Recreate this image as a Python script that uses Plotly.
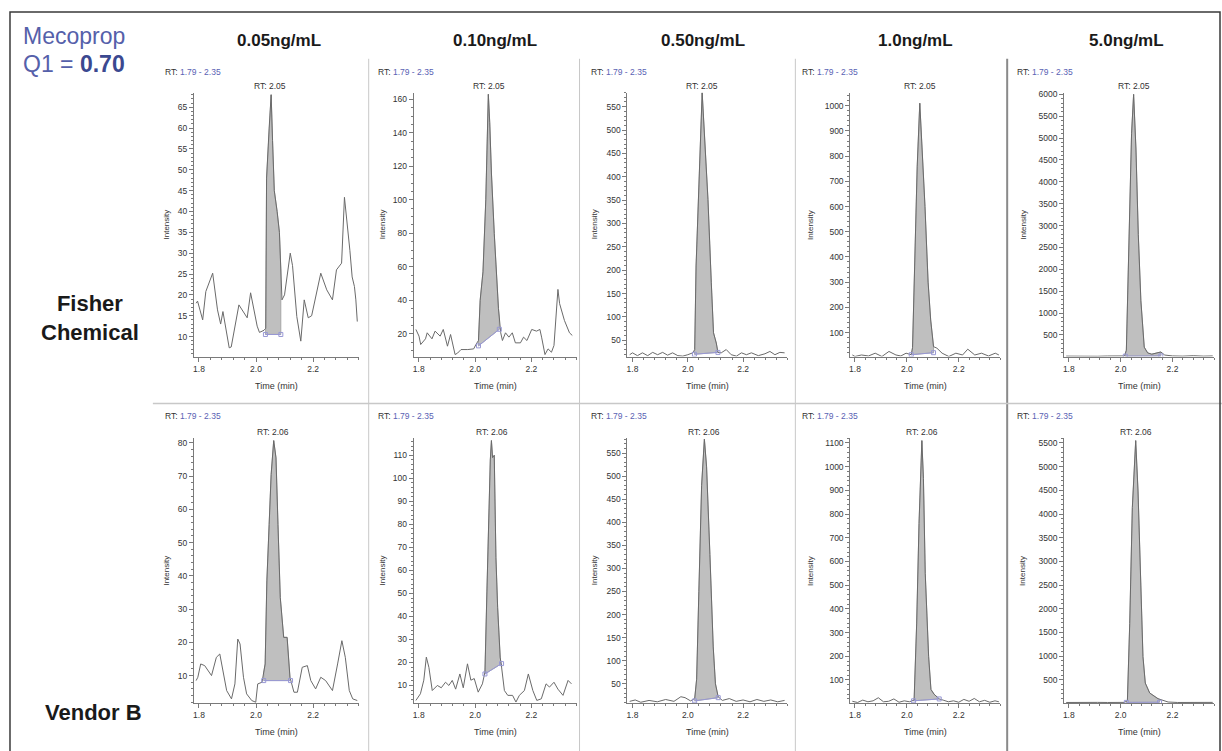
import numpy as np
import plotly.graph_objects as go

W, H = 1222, 751

# ---------------- data ----------------
ANALYTE = "Mecoprop"
Q1_VALUE = "0.70"
CONCENTRATIONS = ["0.05ng/mL", "0.10ng/mL", "0.50ng/mL", "1.0ng/mL", "5.0ng/mL"]
SOURCES = ["Fisher<br>Chemical", "Vendor B"]
RT_WINDOW = "1.79 - 2.35"
RT_APEX = [[2.05, 2.05, 2.05, 2.05, 2.05],
           [2.06, 2.06, 2.06, 2.06, 2.06]]
X_TICKS = [1.8, 2.0, 2.2]
X_TICK_TEXT = ["1.8", "2.0", "2.2"]

# Fisher Chemical
FC_005_T = [1.79, 1.795, 1.813, 1.824, 1.848, 1.865, 1.876, 1.884, 1.906, 1.913, 1.94, 1.969, 1.981, 2.004, 2.012,
            2.028, 2.034, 2.037, 2.046, 2.053, 2.058, 2.064, 2.074, 2.082, 2.091, 2.100, 2.120, 2.128, 2.143, 2.157,
            2.169, 2.183, 2.195, 2.213, 2.227, 2.248, 2.268, 2.282, 2.294, 2.300, 2.310, 2.320, 2.329, 2.337, 2.345,
            2.350, 2.355]
FC_005_I = [18, 18.5, 14, 20.8, 25.2, 16.4, 13, 16, 7.3, 7.5, 17.6, 14.5, 20.5, 12.5, 11,
            11.5, 12, 48, 60, 68, 57, 45, 40, 35, 18.8, 20, 30, 27, 14.8, 8.9,
            18.8, 14.5, 15, 20.5, 25.2, 21.2, 18.8, 26, 27, 27.6, 43.4, 37, 30.7, 24.3, 22,
            18.8, 13.6]

FC_010_T = [1.79, 1.801, 1.807, 1.824, 1.830, 1.847, 1.858, 1.876, 1.887, 1.902, 1.913, 1.929, 1.938, 1.95, 1.974,
            1.995, 2.003, 2.012, 2.018, 2.028, 2.038, 2.047, 2.052, 2.058, 2.068, 2.075, 2.083, 2.091, 2.097, 2.108,
            2.12, 2.132, 2.143, 2.161, 2.172, 2.184, 2.201, 2.218, 2.23, 2.236, 2.248, 2.259, 2.271, 2.28, 2.294,
            2.3, 2.317, 2.335, 2.345]
FC_010_I = [22.6, 18.6, 13.6, 17, 20.6, 17, 21.6, 18.6, 22.6, 12.6, 19.6, 7.6, 8.5, 10.6, 10.6,
            11, 13.6, 16, 40, 57, 100, 163, 146, 116, 80, 56, 35, 20.6, 16, 20.6,
            18, 20.6, 14.6, 14.6, 18, 16, 22.6, 21.6, 22.6, 18, 7.6, 11, 9, 13, 46.5,
            38, 28, 20.6, 19]

FC_050_T = [1.79, 1.80, 1.818, 1.836, 1.855, 1.873, 1.891, 1.909, 1.927, 1.945, 1.964, 1.982, 2.000, 2.018, 2.025,
            2.030, 2.052, 2.060, 2.073, 2.085, 2.093, 2.103, 2.109, 2.121, 2.139, 2.157, 2.176, 2.194, 2.212, 2.230,
            2.255, 2.279, 2.297, 2.315, 2.333, 2.350]
FC_050_I = [19, 23, 17, 23, 17, 24, 19, 24, 18, 23, 17, 16, 19, 23, 30,
            209, 580, 494, 351, 173, 66, 44, 24, 23, 30, 19, 16, 23, 19, 23,
            17, 21, 26, 19, 24, 23]

FC_100_T = [1.79, 1.80, 1.825, 1.852, 1.878, 1.904, 1.931, 1.958, 1.977, 1.997, 2.017, 2.022, 2.030, 2.040, 2.050,
            2.058, 2.070, 2.082, 2.092, 2.103, 2.116, 2.136, 2.162, 2.189, 2.215, 2.235, 2.262, 2.288, 2.315, 2.341,
            2.355]
FC_100_I = [11, 5, 11, 7, 18, 5, 25, 11, 7, 18, 12, 40, 360, 760, 1010,
            850, 600, 300, 150, 44, 38, 18, 5, 18, 11, 34, 11, 18, 7, 18,
            11]

FC_500_T = [1.79, 1.83, 1.87, 1.91, 1.95, 1.99, 2.015, 2.022, 2.033, 2.042, 2.05, 2.059, 2.068, 2.078, 2.091,
            2.104, 2.12, 2.14, 2.155, 2.17, 2.20, 2.24, 2.28, 2.32, 2.355]
FC_500_I = [15, 10, 20, 12, 18, 10, 20, 150, 2800, 5100, 6000, 4750, 2800, 1280, 220,
            90, 60, 80, 110, 40, 20, 15, 25, 15, 20]

# Vendor B
VB_005_T = [1.79, 1.796, 1.806, 1.82, 1.844, 1.861, 1.873, 1.885, 1.897, 1.914, 1.926, 1.936, 1.944, 1.956, 1.967,
            1.985, 1.999, 2.006, 2.021, 2.032, 2.038, 2.046, 2.053, 2.062, 2.07, 2.077, 2.085, 2.097, 2.109, 2.119,
            2.133, 2.145, 2.162, 2.18, 2.192, 2.209, 2.227, 2.244, 2.268, 2.286, 2.301, 2.313, 2.327, 2.339, 2.355]
VB_005_I = [8.5, 9.5, 13.5, 13, 10, 15.5, 16.5, 10.5, 5.5, 3, 7.5, 21, 19.5, 9.5, 4.5,
            2.5, 2, 7.5, 8, 13.5, 38.5, 55.5, 70.5, 80.7, 75.5, 55.5, 33.5, 21.5, 21.5, 9.5,
            5, 5, 12.5, 13, 8.5, 6, 9.5, 8.5, 5.5, 13.5, 20.5, 15.5, 5.5, 3, 2.5]

VB_010_T = [1.79, 1.806, 1.818, 1.827, 1.836, 1.848, 1.866, 1.88, 1.895, 1.907, 1.919, 1.931, 1.946, 1.958, 1.973,
            1.985, 1.997, 2.011, 2.026, 2.035, 2.042, 2.048, 2.054, 2.058, 2.062, 2.068, 2.074, 2.08, 2.089, 2.094,
            2.104, 2.116, 2.133, 2.145, 2.157, 2.175, 2.189, 2.205, 2.219, 2.235, 2.252, 2.264, 2.28, 2.294, 2.312,
            2.33, 2.342]
VB_010_I = [3.5, 6.4, 12.3, 22.3, 17.9, 7.8, 10, 9, 11.4, 10, 12.2, 8.4, 15, 9, 19.4,
            12.3, 13, 7.1, 10.7, 15.8, 51, 83, 108, 116.4, 109, 110, 65.5, 44, 22.3, 18,
            7.8, 5.7, 5.7, 2.8, 5.7, 7.8, 15, 7.8, 3.5, 4.2, 10.7, 9.3, 11.4, 8.4, 5.7,
            12.2, 10.7]

VB_050_T = [1.79, 1.81, 1.83, 1.86, 1.89, 1.92, 1.95, 1.975, 1.99, 2.01, 2.025, 2.032, 2.040, 2.050, 2.060,
            2.068, 2.080, 2.092, 2.100, 2.110, 2.125, 2.15, 2.175, 2.20, 2.225, 2.25, 2.275, 2.30, 2.325, 2.35]
VB_050_I = [12, 15, 10, 14, 11, 16, 12, 22, 20, 13, 18, 60, 250, 480, 580,
            520, 330, 130, 50, 22, 14, 18, 12, 15, 11, 16, 12, 15, 11, 14]

VB_100_T = [1.79, 1.81, 1.83, 1.85, 1.87, 1.89, 1.91, 1.93, 1.95, 1.97, 1.99, 2.01, 2.028, 2.038, 2.047,
            2.058, 2.064, 2.071, 2.084, 2.093, 2.105, 2.125, 2.14, 2.16, 2.18, 2.20, 2.22, 2.24, 2.26, 2.28,
            2.30, 2.32, 2.34, 2.355]
VB_100_I = [10, 5, 15, 8, 12, 25, 8, 10, 20, 6, 12, 8, 15, 340, 760,
            1110, 950, 550, 200, 60, 40, 20, 15, 8, 12, 6, 18, 10, 22, 8,
            14, 6, 12, 8]

VB_500_T = [1.79, 1.83, 1.87, 1.91, 1.95, 1.99, 2.015, 2.026, 2.035, 2.045, 2.058, 2.067, 2.077, 2.086, 2.095,
            2.112, 2.144, 2.183, 2.22, 2.26, 2.30, 2.355]
VB_500_I = [20, 25, 18, 22, 20, 25, 22, 60, 1690, 4135, 5550, 4485, 2390, 990, 430,
            220, 100, 30, 20, 25, 18, 22]

TIMES = [[FC_005_T, FC_010_T, FC_050_T, FC_100_T, FC_500_T],
         [VB_005_T, VB_010_T, VB_050_T, VB_100_T, VB_500_T]]
INTENS = [[FC_005_I, FC_010_I, FC_050_I, FC_100_I, FC_500_I],
          [VB_005_I, VB_010_I, VB_050_I, VB_100_I, VB_500_I]]

# integrated peak (start / end time, baseline intensity at start / end)
PEAK_START = [[2.033, 2.012, 2.024, 2.017, 2.018], [2.027, 2.035, 2.025, 2.026, 2.022]]
PEAK_END = [[2.087, 2.086, 2.109, 2.103, 2.155], [2.121, 2.094, 2.110, 2.125, 2.150]]
BASE_START = [[10.5, 12.8, 20, 12, 15], [8.5, 15, 13, 12, 22]]
BASE_END = [[10.5, 22.7, 24, 20, 20], [8.5, 19.5, 20, 20, 25]]

# intensity axes
Y_MIN = [[5.2, 6.4, 15, 4.6, 5], [1.7, 2.3, 8, 2, 5]]
Y_MAX = [[68.5, 164, 580, 1052, 6040], [81.4, 117.4, 582, 1120, 5600]]
Y_DTICK = [[5, 20, 50, 100, 500], [10, 10, 50, 100, 500]]
Y_MINOR = [[1, 5, 10, 20, 100], [2, 2, 10, 20, 100]]
X_RANGE = [1.782, 2.36]

for r in range(2):
    for c in range(5):
        assert len(TIMES[r][c]) == len(INTENS[r][c]), (r, c)

# ---------------- layout geometry (pixels) ----------------
COL_X0 = [193, 413, 627, 850, 1064]
COL_X1 = [358, 576, 787, 1000, 1214]
ROW_TOP = [90, 437]
ROW_BOT = [355, 703]
TITLE_X = [278, 494, 703, 915, 1126]
RT_WIN_X = [162, 375, 588, 800, 1015]
INTENSITY_X = [166, 382, 594, 810, 1023]
ROW_RT_WIN_Y = [69, 415]
ROW_RT_APEX_Y = [83, 431]
ROW_TIME_Y = [385, 732]

FONT = "Liberation Sans, Arial, sans-serif"
AX_COLOR = "#7a7a7a"
TXT = "#333333"


def fx(p):
    return p / W


def fy(p):
    return 1 - p / H


fig = go.Figure()
annotations = []
layout_axes = {}

for r in range(2):
    for c in range(5):
        k = r * 5 + c
        sfx = "" if k == 0 else str(k + 1)
        xa, ya = "x" + sfx, "y" + sfx
        t = np.array(TIMES[r][c], dtype=float)
        v = np.array(INTENS[r][c], dtype=float)
        s, e = PEAK_START[r][c], PEAK_END[r][c]
        b0, b1 = BASE_START[r][c], BASE_END[r][c]
        vs, ve = np.interp(s, t, v), np.interp(e, t, v)
        inside = (t > s) & (t < e)
        px_ = [s, s] + list(t[inside]) + [e, e, s]
        py_ = [b0, vs] + list(v[inside]) + [ve, b1, b0]

        fig.add_trace(go.Scatter(x=px_, y=py_, xaxis=xa, yaxis=ya, mode="lines",
                                 fill="toself", fillcolor="#bfbfbf",
                                 line=dict(color="#9c9c9c", width=0.8),
                                 hoverinfo="skip", showlegend=False))
        fig.add_trace(go.Scatter(x=t, y=v, xaxis=xa, yaxis=ya, mode="lines",
                                 line=dict(color="#6a6a6a", width=1),
                                 hoverinfo="skip", showlegend=False))
        fig.add_trace(go.Scatter(x=[s, e], y=[b0, b1], xaxis=xa, yaxis=ya, mode="lines+markers",
                                 line=dict(color="#9898d4", width=1),
                                 marker=dict(symbol="square-open", size=4, color="#9898d4"),
                                 hoverinfo="skip", showlegend=False))

        layout_axes["xaxis" + sfx] = dict(
            domain=[fx(COL_X0[c]), fx(COL_X1[c])], range=X_RANGE, anchor=ya,
            tickmode="array", tickvals=X_TICKS, ticktext=X_TICK_TEXT,
            ticks="outside", ticklen=4, tickwidth=1, tickcolor=AX_COLOR,
            minor=dict(tickmode="linear", tick0=1.8, dtick=0.04, ticks="outside",
                       ticklen=2, tickcolor=AX_COLOR),
            showline=True, linecolor=AX_COLOR, linewidth=1,
            showgrid=False, zeroline=False,
            tickfont=dict(size=8.5, color=TXT, family=FONT), fixedrange=True)
        layout_axes["yaxis" + sfx] = dict(
            domain=[fy(ROW_BOT[r]), fy(ROW_TOP[r])],
            range=[Y_MIN[r][c], Y_MAX[r][c]], anchor=xa,
            tickmode="linear", tick0=0, dtick=Y_DTICK[r][c],
            ticks="outside", ticklen=4, tickwidth=1, tickcolor=AX_COLOR,
            minor=dict(tickmode="linear", tick0=0, dtick=Y_MINOR[r][c], ticks="outside",
                       ticklen=2, tickcolor=AX_COLOR),
            showline=True, linecolor=AX_COLOR, linewidth=1,
            showgrid=False, zeroline=False,
            tickfont=dict(size=8.5, color=TXT, family=FONT), fixedrange=True)

        # RT window label
        annotations.append(dict(
            text="RT: <span style='color:#5a62b4'>" + RT_WINDOW + "</span>",
            xref="paper", yref="paper", x=fx(RT_WIN_X[c]), y=fy(ROW_RT_WIN_Y[r]),
            xanchor="left", yanchor="middle", showarrow=False,
            font=dict(size=8.5, color=TXT, family=FONT)))
        # apex RT label
        annotations.append(dict(
            text="RT: %.2f" % RT_APEX[r][c], xref=xa, yref="paper",
            x=RT_APEX[r][c], y=fy(ROW_RT_APEX_Y[r]),
            xanchor="center", yanchor="middle", showarrow=False,
            font=dict(size=8.5, color=TXT, family=FONT)))
        # axis titles
        annotations.append(dict(
            text="Intensity", xref="paper", yref="paper",
            x=fx(INTENSITY_X[c]), y=fy((ROW_TOP[r] + ROW_BOT[r]) / 2),
            textangle=-90, xanchor="center", yanchor="middle", showarrow=False,
            font=dict(size=8, color=TXT, family=FONT)))
        annotations.append(dict(
            text="Time (min)", xref="paper", yref="paper",
            x=fx((COL_X0[c] + COL_X1[c]) / 2), y=fy(ROW_TIME_Y[r]),
            xanchor="center", yanchor="middle", showarrow=False,
            font=dict(size=9, color=TXT, family=FONT)))

# column titles
for c in range(5):
    annotations.append(dict(
        text="<b>" + CONCENTRATIONS[c] + "</b>", xref="paper", yref="paper",
        x=fx(TITLE_X[c]), y=fy(38), xanchor="center", yanchor="middle", showarrow=False,
        font=dict(size=17, color="#1a1a1a", family=FONT)))

# row labels
annotations.append(dict(
    text="<b>" + SOURCES[0] + "</b>", xref="paper", yref="paper",
    x=fx(89), y=fy(316), xanchor="center", yanchor="middle", showarrow=False, align="center",
    font=dict(size=22, color="#1a1a1a", family=FONT)))
annotations.append(dict(
    text="<b>" + SOURCES[1] + "</b>", xref="paper", yref="paper",
    x=fx(93), y=fy(712), xanchor="center", yanchor="middle", showarrow=False,
    font=dict(size=22, color="#1a1a1a", family=FONT)))

# analyte heading
annotations.append(dict(
    text=ANALYTE, xref="paper", yref="paper", x=fx(20), y=fy(33),
    xanchor="left", yanchor="middle", showarrow=False,
    font=dict(size=23, color="#5560aa", family=FONT)))
annotations.append(dict(
    text="Q1 = <b><span style='color:#3b4890'>" + Q1_VALUE + "</span></b>",
    xref="paper", yref="paper", x=fx(20), y=fy(61),
    xanchor="left", yanchor="middle", showarrow=False,
    font=dict(size=23, color="#5560aa", family=FONT)))

# separators and border
shapes = []
for xs in [368, 579, 795]:
    shapes.append(dict(type="line", xref="paper", yref="paper",
                       x0=fx(xs), x1=fx(xs), y0=fy(56), y1=fy(751),
                       line=dict(color="#c8c8c8", width=1)))
shapes.append(dict(type="line", xref="paper", yref="paper",
                   x0=fx(1007), x1=fx(1007), y0=fy(56), y1=fy(751),
                   line=dict(color="#8a8a8a", width=2)))
shapes.append(dict(type="line", xref="paper", yref="paper",
                   x0=fx(152), x1=fx(1222), y0=fy(402), y1=fy(402),
                   line=dict(color="#c8c8c8", width=1.5)))
shapes.append(dict(type="rect", xref="paper", yref="paper",
                   x0=fx(9), x1=fx(1220), y0=fy(760), y1=fy(9),
                   line=dict(color="#3a3a3a", width=1.5)))

fig.update_layout(
    width=W, height=H, margin=dict(l=0, r=0, t=0, b=0),
    paper_bgcolor="white", plot_bgcolor="white",
    showlegend=False, hovermode=False,
    annotations=annotations, shapes=shapes,
    font=dict(family=FONT),
    **layout_axes)

fig.write_html("out.html", config={"displayModeBar": False},
               post_script="document.body.style.margin='0';document.body.style.overflow='hidden';")
